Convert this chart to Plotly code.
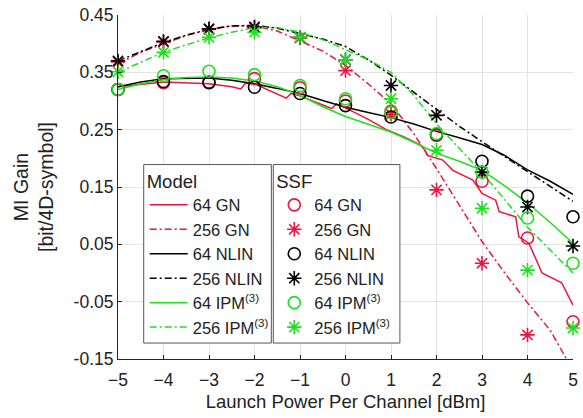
import plotly.graph_objects as go

# ---------------- data ----------------
x_pts = [-5, -4, -3, -2, -1, 0, 1, 2, 3, 4, 5]
x_model = [-5, -4.5, -4, -3.5, -3, -2.5, -2, -1.5, -1, -0.5, 0, 0.5, 1, 1.5, 2, 2.5, 3, 3.5, 4, 4.5, 5]

# Model curves
x_gn64 = [-5, -4, -3, -2.5, -2.3, -2.2, -2.0, -1.6, -1.3, -1.2, -1.0, -0.5, -0.3, -0.2, 0, 0.5, 0.9, 1.3,
          1.65, 1.75, 1.8, 2.14, 2.36, 2.8, 3.0, 3.3, 3.38, 3.74, 3.81, 4.03, 4.32, 4.75, 5.0]
y_gn64 = [0.325, 0.333, 0.330, 0.325, 0.321, 0.331, 0.330, 0.316, 0.305, 0.313, 0.309, 0.293, 0.287, 0.295,
          0.288, 0.268, 0.250, 0.237, 0.223, 0.214, 0.205, 0.197, 0.179, 0.162, 0.139, 0.127, 0.107, 0.098,
          0.063, 0.052, 0.0, -0.017, -0.056]
y_gn256 = [0.365, 0.385, 0.400, 0.414, 0.425, 0.431, 0.431, 0.422, 0.405, 0.387, 0.362, 0.330, 0.295,
           0.243, 0.182, 0.118, 0.055, 0.0, -0.052, -0.100, -0.170]
y_nlin64 = [0.325, 0.333, 0.339, 0.340, 0.340, 0.336, 0.330, 0.322, 0.313, 0.301, 0.289, 0.280, 0.271,
            0.260, 0.247, 0.236, 0.224, 0.205, 0.180, 0.160, 0.137]
y_nlin256 = [0.370, 0.386, 0.402, 0.415, 0.425, 0.431, 0.432, 0.427, 0.418, 0.408, 0.395, 0.372, 0.345,
             0.315, 0.285, 0.256, 0.229, 0.203, 0.177, 0.152, 0.125]
y_ipm64 = [0.320, 0.330, 0.337, 0.341, 0.342, 0.340, 0.335, 0.325, 0.310, 0.290, 0.273, 0.259, 0.246,
           0.228, 0.209, 0.195, 0.179, 0.152, 0.122, 0.088, 0.052]
y_ipm256 = [0.350, 0.368, 0.385, 0.398, 0.410, 0.420, 0.428, 0.428, 0.420, 0.407, 0.390, 0.372, 0.350,
            0.310, 0.260, 0.218, 0.175, 0.128, 0.080, 0.040, 0.000]

# SSF simulation points
s_gn64 = [0.320, 0.332, 0.333, 0.339, 0.323, 0.300, 0.282, 0.240, 0.160, 0.061, -0.085]
s_gn256 = [0.368, 0.403, 0.425, 0.428, 0.410, 0.353, 0.277, 0.145, 0.017, -0.108, None]
s_nlin64 = [0.320, 0.334, 0.332, 0.324, 0.313, 0.292, 0.272, 0.242, 0.195, 0.134, 0.098]
s_nlin256 = [0.370, 0.404, 0.426, 0.429, 0.411, 0.372, 0.327, 0.275, 0.176, 0.115, 0.047]
s_ipm64 = [0.320, 0.344, 0.352, 0.346, 0.327, 0.304, 0.280, 0.243, 0.176, 0.096, 0.017]
s_ipm256 = [0.351, 0.385, 0.411, 0.420, 0.411, 0.372, 0.304, 0.214, 0.113, 0.005, -0.096]

y_ticks = [-0.15, -0.05, 0.05, 0.15, 0.25, 0.35, 0.45]
y_ticklabels = ["-0.15", "-0.05", "0.05", "0.15", "0.25", "0.35", "0.45"]
x_ticks = [-5, -4, -3, -2, -1, 0, 1, 2, 3, 4, 5]

RED = "#e8173f"
BLACK = "#000000"
GREEN = "#1ee01e"
DASHDOT = "7px,3px,2px,3px"
FONT = "Liberation Sans, Arial, sans-serif"
TXT = "#222222"

fig = go.Figure()

model = [
    ("64 GN", x_gn64, y_gn64, RED, "solid"),
    ("256 GN", x_model, y_gn256, RED, DASHDOT),
    ("64 NLIN", x_model, y_nlin64, BLACK, "solid"),
    ("256 NLIN", x_model, y_nlin256, BLACK, DASHDOT),
    ("64 IPM<sup>(3)</sup>", x_model, y_ipm64, GREEN, "solid"),
    ("256 IPM<sup>(3)</sup>", x_model, y_ipm256, GREEN, DASHDOT),
]
for name, xs, ys, col, dash in model:
    fig.add_trace(go.Scatter(x=xs, y=ys, mode="lines", name=name,
                             line=dict(color=col, width=1.5, dash=dash),
                             legend="legend"))

ssf = [
    ("64 GN", s_gn64, RED, "circle-open"),
    ("256 GN", s_gn256, RED, "asterisk-open"),
    ("64 NLIN", s_nlin64, BLACK, "circle-open"),
    ("256 NLIN", s_nlin256, BLACK, "asterisk-open"),
    ("64 IPM<sup>(3)</sup>", s_ipm64, GREEN, "circle-open"),
    ("256 IPM<sup>(3)</sup>", s_ipm256, GREEN, "asterisk-open"),
]
for name, ys, col, sym in ssf:
    fig.add_trace(go.Scatter(x=x_pts, y=ys, mode="markers", name=name,
                             marker=dict(symbol=sym, size=12, color=col,
                                         line=dict(color=col, width=1.6)),
                             cliponaxis=False, legend="legend2"))

# legend boxes
L, R, T, B = 118, 578, 14, 359
W, H = R - L, B - T
def px(xp):
    return (xp - L) / W
def py(yp):
    return 1 - (yp - T) / H

for x0, x1 in [(144, 273), (275, 403)]:
    fig.add_shape(type="rect", xref="paper", yref="paper",
                  x0=px(x0), x1=px(x1), y0=py(343), y1=py(164),
                  line=dict(color="#555555", width=1), fillcolor="white", layer="above")

legend_common = dict(bgcolor="rgba(0,0,0,0)", borderwidth=0, xanchor="left", yanchor="top",
                     font=dict(family=FONT, size=16.5, color=TXT),
                     tracegroupgap=0)
fig.update_layout(
    width=583, height=418,
    margin=dict(l=L, r=583 - R, t=T, b=418 - B),
    paper_bgcolor="white", plot_bgcolor="white",
    font=dict(family=FONT, size=16, color=TXT),
    legend=dict(x=px(145), y=py(163), itemwidth=38,
                title=dict(text="Model", font=dict(family=FONT, size=18.5, color=TXT)),
                **legend_common),
    legend2=dict(x=px(276), y=py(163),
                 title=dict(text="SSF", font=dict(family=FONT, size=18.5, color=TXT)),
                 **legend_common),
    xaxis=dict(range=[-5, 5], tickvals=x_ticks, ticks="inside", ticklen=4,
               tickcolor="#262626", showline=True, linecolor="#262626", linewidth=1,
               showgrid=True, gridcolor="#e3e3e3", gridwidth=1, zeroline=False,
               ticklabelstandoff=5,
               tickfont=dict(family=FONT, size=17.5, color=TXT),
               title=dict(text="Launch Power Per Channel [dBm]", standoff=6,
                          font=dict(family=FONT, size=18.5, color=TXT))),
    yaxis=dict(range=[-0.15, 0.45], tickvals=y_ticks, ticktext=y_ticklabels,
               ticks="inside", ticklen=4, tickcolor="#262626",
               showline=True, linecolor="#262626", linewidth=1,
               showgrid=True, gridcolor="#e3e3e3", gridwidth=1, zeroline=False,
               tickfont=dict(family=FONT, size=17.5, color=TXT),
               title=dict(text="MI Gain<br>[bit/4D-symbol]", standoff=14,
                          font=dict(family=FONT, size=19.5, color=TXT))),
)

fig.write_html("out.html")
